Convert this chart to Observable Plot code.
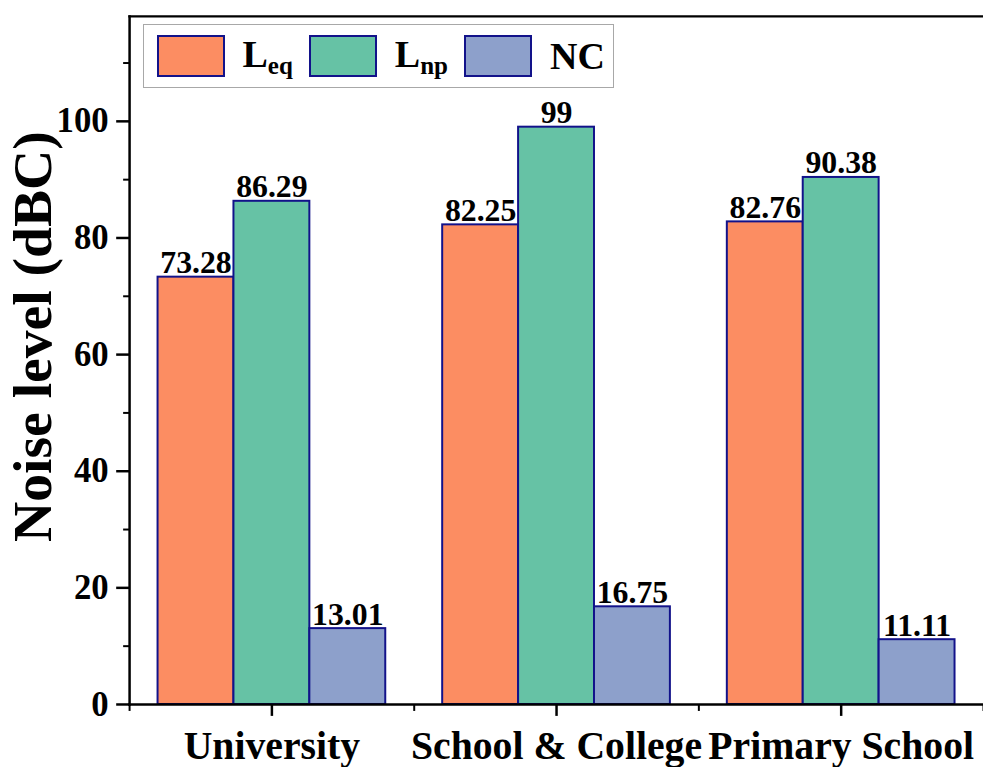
<!DOCTYPE html>
<html>
<head>
<meta charset="utf-8">
<script src="https://cdn.jsdelivr.net/npm/d3@7"></script>
<script src="https://cdn.jsdelivr.net/npm/@observablehq/plot@0.6"></script>
<style>
  html, body { margin: 0; padding: 0; background: #fff; overflow: hidden; }
  #wrap { position: relative; width: 983px; height: 767px; overflow: hidden; }
  #legend {
    position: absolute; left: 143px; top: 24px; width: 471px; height: 64px;
    box-sizing: border-box; border: 1.5px solid #a8a8a8; background: #fff;
    display: flex; align-items: center; padding-left: 12.5px;
    font-family: "Times New Roman", "Liberation Serif", Tinos, serif; font-weight: bold; color: #000;
  }
  .sw { width: 68px; height: 42px; box-sizing: border-box; border: 2px solid #12128a; margin-right: 18px; flex: none; }
  .lab { font-size: 38px; line-height: 1; margin-right: 16px; white-space: nowrap; }
  .lab sub { font-size: 25px; vertical-align: -7px; }
</style>
</head>
<body>
<div id="wrap"><div id="chart"></div><div id="legend"></div></div>
<script>
// ---- data ----
const groups = ["University", "School & College", "Primary School"];
const series = ["Leq", "Lnp", "NC"];
const seriesMain = ["L", "L", "NC"];
const seriesSub = ["eq", "np", ""];
const colors = ["#FC8D62", "#66C2A5", "#8DA0CB"];
const leq = [73.28, 82.25, 82.76];
const lnp = [86.29, 99, 90.38];
const nc = [13.01, 16.75, 11.11];
const yMajorTicks = [0, 20, 40, 60, 80, 100];
const yMinorTicks = [10, 30, 50, 70, 90, 110];
const yMax = 118;
const yTitle = "Noise level (dBC)";

// grouped-bar layout: each group occupies one unit of a linear x scale
const groupFill = 0.8;              // fraction of a group's slot covered by its bars
const barW = groupFill / series.length;
const valuesBySeries = [leq, lnp, nc];
const table = [];
groups.forEach((g, gi) => {
  series.forEach((s, si) => {
    const x1 = gi - groupFill / 2 + si * barW;
    table.push({group: g, gi, series: s, value: valuesBySeries[si][gi], x1, x2: x1 + barW, xm: x1 + barW / 2});
  });
});
const xMajor = groups.map((g, i) => i);
const xMinor = d3.range(-0.5, groups.length, 1);

const font = "'Times New Roman', 'Liberation Serif', Tinos, serif";
const edge = "#12128a";

const chart = Plot.plot({
  width: 990,
  height: 790,
  marginTop: 16,
  marginBottom: 81,
  marginLeft: 130,
  marginRight: 0,
  style: {fontFamily: font, fontWeight: "bold", color: "#000", background: "#fff"},
  x: {domain: [-0.5, groups.length - 0.5], axis: null},
  y: {domain: [0, yMax], axis: null},
  color: {domain: series, range: colors},
  marks: [
    Plot.rectY(table, {x1: "x1", x2: "x2", y: "value", fill: "series", stroke: edge, strokeWidth: 2, inset: 0}),
    Plot.text(table, {x: "xm", y: "value", text: d => String(d.value),
      lineAnchor: "bottom", dy: -4, fontSize: 32, fontWeight: "bold", fill: "#000"}),
    Plot.frame({anchor: "top", stroke: "#000", strokeWidth: 2.5}),
    Plot.frame({anchor: "bottom", stroke: "#000", strokeWidth: 2.5}),
    Plot.frame({anchor: "left", stroke: "#000", strokeWidth: 2.5}),
    Plot.axisY({ticks: yMajorTicks, tickSize: 13, tickPadding: 8, strokeWidth: 2.5, fontSize: 35, fontWeight: "bold",
      label: null, tickFormat: d => String(d)}),
    Plot.axisY({ticks: yMinorTicks, tickSize: 6, strokeWidth: 2, text: null, label: null}),
    Plot.text([yTitle], {frameAnchor: "left", text: d => d, rotate: -90, dx: -97, dy: -24,
      lineAnchor: "middle", textAnchor: "middle", fontSize: 56, fontWeight: "bold", fill: "#000"}),
    Plot.axisX({ticks: xMajor, tickFormat: i => groups[i], tickSize: 12, tickPadding: 15, strokeWidth: 2.5,
      fontSize: 40, fontWeight: "bold", label: null}),
    Plot.axisX({ticks: xMinor, tickSize: 7, strokeWidth: 2, text: null, label: null})
  ]
});
document.getElementById("chart").appendChild(chart);

// ---- legend ----
const legend = document.getElementById("legend");
series.forEach((s, i) => {
  const sw = document.createElement("span");
  sw.className = "sw";
  sw.style.background = colors[i];
  legend.appendChild(sw);
  const lab = document.createElement("span");
  lab.className = "lab";
  lab.textContent = seriesMain[i];
  if (seriesSub[i]) {
    const sub = document.createElement("sub");
    sub.textContent = seriesSub[i];
    lab.appendChild(sub);
  }
  legend.appendChild(lab);
});
</script>
</body>
</html>
